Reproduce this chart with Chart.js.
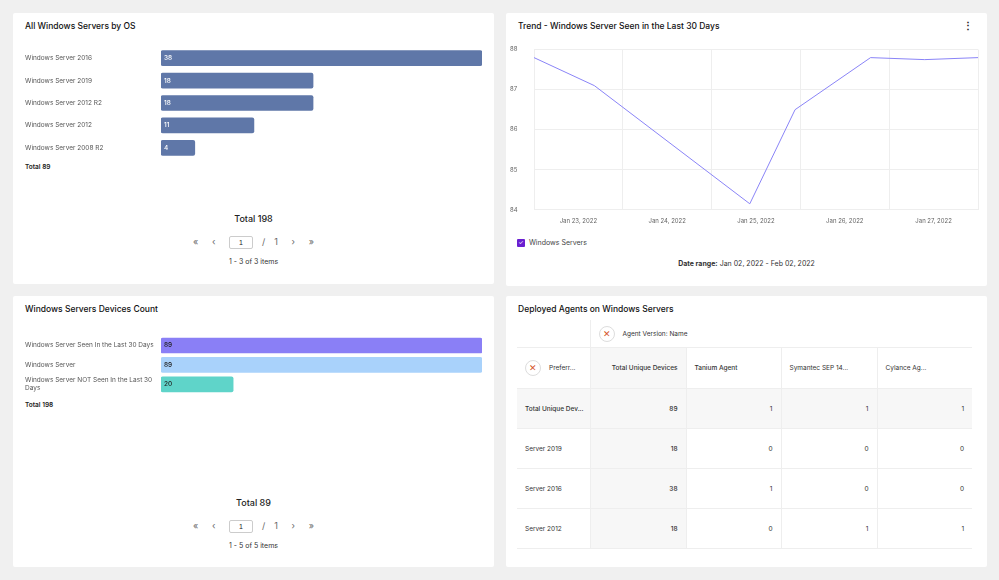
<!DOCTYPE html>
<html><head><meta charset="utf-8">
<script src="https://cdn.jsdelivr.net/npm/chart.js@4/dist/chart.umd.min.js"></script>
<style>
body{margin:0;width:999px;height:580px;background:#f0f0f0;font-family:Inter,Roboto,sans-serif;color:#222;position:relative;overflow:hidden}
.p{position:absolute;background:#fff;border-radius:2px}
.t{position:absolute;left:12px;top:8px;font-size:8.5px;font-weight:500;color:#111}
.abs{position:absolute}
.tot{font-size:6.5px;font-weight:600}
.big{font-size:9px;font-weight:500;width:100%;text-align:center}
.pg{width:100%;text-align:center;font-size:9px;color:#666;word-spacing:2px}
.pg input{width:20px;height:9px;font-size:7px;border:1px solid #ccc;border-radius:2px;text-align:center;padding:1px;color:#222}
.it{width:100%;text-align:center;font-size:7px;color:#333}
table{border-collapse:collapse;font-size:6.5px;color:#333;table-layout:fixed}
td{border-bottom:1px solid #eee;height:39px;padding:0 8px;color:#333;white-space:nowrap;overflow:hidden}
.ic{display:inline-block;width:14px;height:14px;border-radius:50%;border:1px solid #ddd;text-align:center;line-height:13px;color:#d5562a;font-size:9px;vertical-align:middle;margin-right:8px}
</style></head><body>

<div class="p" style="left:13px;top:13px;width:481px;height:271px">
 <div class="t">All Windows Servers by OS</div>
 <div class="abs" style="left:0;top:30px;width:481px;height:120px"><canvas id="c1"></canvas></div>
 <div class="abs tot" style="left:12px;top:150px">Total 89</div>
 <div class="abs big" style="top:200px">Total 198</div>
 <div class="abs pg" style="top:223px">&laquo;&nbsp;&nbsp; &lsaquo;&nbsp;&nbsp; <input value="1"> &nbsp;/&nbsp; 1 &nbsp;&nbsp;&rsaquo;&nbsp;&nbsp; &raquo;</div>
 <div class="abs it" style="top:244px">1 - 3 of 3 items</div>
</div>

<div class="p" style="left:506px;top:13px;width:481px;height:273px">
 <div class="t">Trend - Windows Server Seen in the Last 30 Days</div>
 <div class="abs" style="right:14px;top:6px;font-size:10px;font-weight:700">&#8942;</div>
 <div class="abs" style="left:4px;top:31px;width:472px;height:189px"><canvas id="c2"></canvas></div>
 <div class="abs" style="left:11px;top:225px;font-size:7px;color:#444"><span style="display:inline-block;width:8px;height:8px;background:#6a1fd1;border-radius:1px;vertical-align:middle;color:#fff;font-size:6px;line-height:8px;text-align:center">&#10003;</span>&nbsp; Windows Servers</div>
 <div class="abs it" style="top:246px;font-size:7px"><b>Date range:</b> Jan 02, 2022 - Feb 02, 2022</div>
</div>

<div class="p" style="left:13px;top:296px;width:481px;height:271px">
 <div class="t">Windows Servers Devices Count</div>
 <div class="abs" style="left:0;top:32px;width:481px;height:70px"><canvas id="c3"></canvas></div>
 <div class="abs tot" style="left:12px;top:105px">Total 198</div>
 <div class="abs big" style="top:201px">Total 89</div>
 <div class="abs pg" style="top:224px">&laquo;&nbsp;&nbsp; &lsaquo;&nbsp;&nbsp; <input value="1"> &nbsp;/&nbsp; 1 &nbsp;&nbsp;&rsaquo;&nbsp;&nbsp; &raquo;</div>
 <div class="abs it" style="top:245px">1 - 5 of 5 items</div>
</div>

<div class="p" style="left:506px;top:296px;width:481px;height:271px">
 <div class="t">Deployed Agents on Windows Servers</div>
 <div class="abs" style="left:11px;top:24px;width:455px">
 <table style="width:455px" id="tbl"></table>
 </div>
</div>

<script>
const osLabels = ["Windows Server 2016","Windows Server 2019","Windows Server 2012 R2","Windows Server 2012","Windows Server 2008 R2"];
const osCounts = [38, 18, 18, 11, 4];

const trendDays = ["Jan 23, 2022","Jan 24, 2022","Jan 25, 2022","Jan 26, 2022","Jan 27, 2022"];
const trendX = [0, 0.68, 2.43, 2.94, 3.79, 4.4, 5];
const trendY = [87.8, 87.1, 84.15, 86.5, 87.8, 87.75, 87.8];

const devLabels = [["Windows Server Seen In the Last 30 Days"],["Windows Server"],["Windows Server NOT Seen In the Last 30","Days"]];
const devCounts = [89, 89, 20];
const devColors = ["#8a7ff6","#a9d2fb","#5fd4c9"];

const agentCols = ["Total Unique Devices","Tanium Agent","Symantec SEP 14...","Cylance Ag..."];
const agentRows = ["Total Unique Dev...","Server 2019","Server 2016","Server 2012"];
const agentVals = [[89,1,1,1],[18,0,0,0],[38,1,0,0],[18,0,1,1]];

Chart.defaults.font.family = "Inter, Roboto, sans-serif";
Chart.defaults.animation = false;

const valLabels = {
  id: "valLabels",
  afterDatasetsDraw(chart, args, opts) {
    const ctx = chart.ctx;
    chart.getDatasetMeta(0).data.forEach((bar, i) => {
      ctx.save();
      ctx.font = "500 6.5px Inter, sans-serif";
      ctx.fillStyle = opts.color;
      ctx.textBaseline = "middle";
      ctx.fillText(chart.data.datasets[0].data[i], bar.base + 3, bar.y);
      ctx.restore();
    });
  }
};

function hbar(id, labels, data, colors, textColor, thick) {
  new Chart(document.getElementById(id), {
    type: "bar",
    data: { labels: labels, datasets: [{ data: data, backgroundColor: colors, borderRadius: 2, borderSkipped: false, barThickness: thick }] },
    options: {
      indexAxis: "y", responsive: true, maintainAspectRatio: false,
      layout: { padding: { left: 12, right: 12 } },
      plugins: { legend: { display: false }, tooltip: { enabled: false }, valLabels: { color: textColor } },
      scales: {
        x: { display: false, min: 0, max: Math.max(...data) },
        y: { grid: { display: false }, border: { display: false },
             afterFit: s => { s.width = 136; },
             ticks: { crossAlign: "far", color: "#555", font: { size: 6.5 }, padding: 0 } }
      }
    },
    plugins: [valLabels]
  });
}
hbar("c1", osLabels, osCounts, "#5f77a8", "#fff", 15);
hbar("c3", devLabels, devCounts, devColors, "#222", 15);

new Chart(document.getElementById("c2"), {
  type: "line",
  data: {
    labels: trendDays,
    datasets: [{ data: trendX.map((x, i) => ({ x: x, y: trendY[i] })), xAxisID: "x2",
      borderColor: "#8a84f7", borderWidth: 1, pointRadius: 0, tension: 0, fill: false }]
  },
  options: {
    responsive: true, maintainAspectRatio: false,
    layout: { padding: { right: 4 } },
    plugins: { legend: { display: false }, tooltip: { enabled: false } },
    scales: {
      x: { type: "category", offset: true, grid: { offset: true, color: "#eee", drawTicks: false }, border: { display: false },
           ticks: { color: "#666", font: { size: 6 }, padding: 8 } },
      x2: { type: "linear", display: false, min: 0, max: 5 },
      y: { min: 84, max: 88, grid: { color: "#eee", drawTicks: false }, border: { display: false },
           afterFit: s => { s.width = 24; },
           ticks: { stepSize: 1, color: "#666", font: { size: 6 }, padding: 2, crossAlign: "far" } }
    }
  }
});

const widths = [73, 96, 95, 96, 95];
const tbl = document.getElementById("tbl");
let h = '<colgroup>' + widths.map(w => '<col style="width:' + w + 'px">').join('') + '</colgroup>';
h += '<tr><td style="height:27px"></td><td colspan="4" style="border-left:1px solid #eee;height:27px"><span class="ic">&#10005;</span>Agent Version: Name</td></tr>';
h += '<tr><td style="height:40px"><span class="ic">&#10005;</span>Preferr...</td>';
agentCols.forEach((c, j) => { h += '<td style="border-left:1px solid #eee;' + (j == 0 ? 'background:#f7f7f7;text-align:right;font-weight:500' : 'font-weight:' + (j == 1 ? 500 : 400)) + '">' + c + '</td>'; });
h += '</tr>';
agentRows.forEach((r, i) => {
  const bg = i == 0 ? 'background:#f7f7f7;' : '';
  h += '<tr><td style="' + bg + (i == 0 ? 'font-weight:500;padding:0 4px 0 8px' : '') + '">' + r + '</td>';
  agentVals[i].forEach((v, j) => { h += '<td style="border-left:1px solid #eee;text-align:right;' + (j == 0 ? 'background:#f7f7f7;font-weight:500' : bg) + '">' + v + '</td>'; });
  h += '</tr>';
});
tbl.innerHTML = h;
</script>
</body></html>
